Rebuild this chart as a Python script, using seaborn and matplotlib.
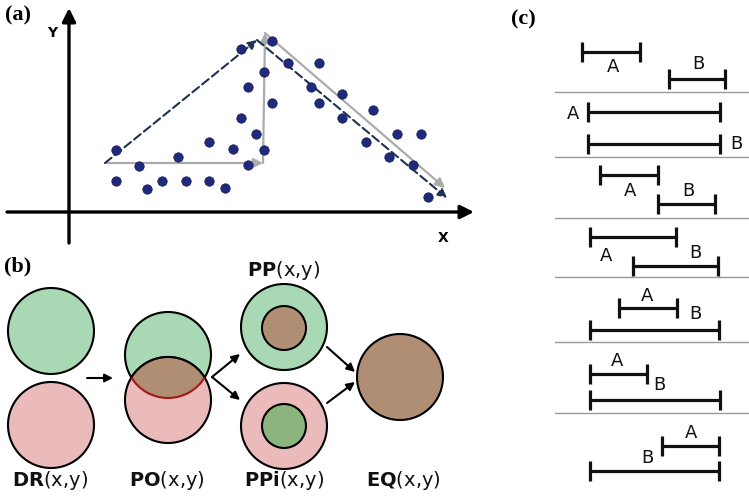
import numpy as np
import matplotlib
matplotlib.use("Agg")
import matplotlib.pyplot as plt
from matplotlib.patches import Circle, Arc
import seaborn as sns

# ---------------- data ----------------
# panel (a) scatter points (pixel space)
pts_x = [116, 116, 139, 147, 162, 178, 186, 209, 209, 225, 233, 241, 241, 248, 248, 256,
         264, 264, 272, 272, 288, 311, 319, 319, 342, 342, 366, 373, 389, 397, 413, 421, 428]
pts_y = [150, 181, 166, 189, 181, 157, 181, 142, 181, 188, 149, 49, 118, 87, 165, 134,
         72, 150, 103, 41, 63, 87, 63, 103, 94, 118, 142, 110, 157, 134, 165, 134, 197]
gray_path_x = [105, 263, 265, 445]
gray_path_y = [163, 163, 33, 188]
dash_path_x = [105, 257, 447]
dash_path_y = [163, 40, 198]

# panel (b) circles: (cx, cy, r)
dr_green = (51, 331, 43)
dr_pink = (51, 425, 43)
po_green = (168, 355, 43)
po_pink = (168, 400, 43)
pp_outer = (284, 327, 43)
pp_inner = (284, 328, 22)
ppi_outer = (284, 426, 43)
ppi_inner = (284, 426, 22)
eq_circle = (400, 377, 43)
b_labels = [r"$\mathbf{DR}$(x,y)", r"$\mathbf{PO}$(x,y)", r"$\mathbf{PP}$(x,y)",
            r"$\mathbf{PPi}$(x,y)", r"$\mathbf{EQ}$(x,y)"]
b_label_xy = [(50, 481), (167, 481), (284, 271), (284, 481), (403, 481)]

# panel (c) intervals: rows of (start, end, y)
int_a = [(582, 640, 52), (588, 720, 112), (600, 658, 175), (590, 676, 237),
         (619, 677, 308), (590, 647, 374), (662, 719, 446)]
int_b = [(669, 725, 79), (588, 720, 144), (658, 715, 204), (633, 718, 266),
         (590, 719, 330), (590, 720, 400), (590, 719, 471)]
lab_a = [(613, 67), (573, 114), (630, 191), (606, 256), (647, 296), (617, 361), (691, 433)]
lab_b = [(698, 64), (736, 144), (688, 191), (695, 253), (695, 314), (659, 385), (647, 458)]
separators_y = [92, 157, 218, 277, 342, 413]

GREEN = "#a9d8b4"
PINK = "#ebbaba"
BROWN = "#b08e73"
DGREEN = "#8cb47d"
NAVY = "#1f2a7c"

plt.rcParams["mathtext.fontset"] = "dejavusans"
fig = plt.figure(figsize=(7.49, 5.01), dpi=100)
ax = fig.add_axes([0, 0, 1, 1])

# ---- panel (a) ----
sns.scatterplot(x=pts_x, y=pts_y, ax=ax, s=46, color=NAVY, edgecolor="#141a50",
                linewidth=0.5, zorder=3)

def arrow(p0, p1, color="black", lw=1.5, ms=12, ls="-", z=4):
    ax.annotate("", xy=p1, xytext=p0,
                arrowprops=dict(arrowstyle="-|>", color=color, lw=lw, linestyle=ls,
                                mutation_scale=ms, shrinkA=0, shrinkB=0), zorder=z)

# axes arrows
arrow((69, 243), (69, 8), lw=2.4, ms=20)
arrow((7, 212), (474, 212), lw=2.4, ms=20)
ax.text(52, 33, "Y", fontsize=10, fontweight="bold", ha="center", va="center")
ax.text(443, 238, "X", fontsize=10, fontweight="bold", ha="center", va="center")

# gray arrows
for i in range(len(gray_path_x) - 1):
    arrow((gray_path_x[i], gray_path_y[i]), (gray_path_x[i + 1], gray_path_y[i + 1]),
          color="#ababab", lw=1.6, ms=14, z=2)
# dashed navy arrows
for i in range(len(dash_path_x) - 1):
    arrow((dash_path_x[i], dash_path_y[i]), (dash_path_x[i + 1], dash_path_y[i + 1]),
          color="#1e3352", lw=1.5, ms=13, ls=(0, (4, 2)), z=2)

# ---- panel (b) ----
def circ(c, fc, z=2, ec="black"):
    p = Circle((c[0], c[1]), c[2], facecolor=fc, edgecolor=ec, lw=1.5, zorder=z)
    ax.add_patch(p)
    return p

circ(dr_green, GREEN)
circ(dr_pink, PINK)
g = circ(po_green, GREEN, z=2)
circ(po_pink, PINK, z=3)
lens = Circle((po_pink[0], po_pink[1]), po_pink[2], facecolor=BROWN, edgecolor="none", zorder=4)
ax.add_patch(lens)
lens.set_clip_path(g)
d = po_pink[1] - po_green[1]
phi = np.degrees(np.arcsin((d / 2) / po_green[2]))
ax.add_patch(Arc((po_green[0], po_green[1]), 2 * po_green[2], 2 * po_green[2],
                 theta1=phi, theta2=180 - phi, color="#a01818", lw=1.5, zorder=5))
ax.add_patch(Arc((po_pink[0], po_pink[1]), 2 * po_pink[2], 2 * po_pink[2],
                 theta1=180 + phi, theta2=360 - phi, color="black", lw=1.5, zorder=5))
circ(pp_outer, GREEN)
circ(pp_inner, BROWN, z=3)
circ(ppi_outer, PINK)
circ(ppi_inner, DGREEN, z=3)
circ(eq_circle, BROWN)

arrow((87, 378), (113, 378), lw=1.5, ms=12)
arrow((212, 377), (240, 354), lw=1.5, ms=12)
arrow((212, 377), (240, 400), lw=1.5, ms=12)
arrow((327, 347), (355, 372), lw=1.5, ms=12)
arrow((327, 403), (355, 382), lw=1.5, ms=12)

for lab, (x, y) in zip(b_labels, b_label_xy):
    ax.text(x, y, lab, fontsize=14, ha="center", va="center", color="#111111")

# ---- panel (c) ----
for y in separators_y:
    ax.plot([555, 749], [y, y], color="#9a9a9a", lw=1.0, zorder=1)

def interval(x0, x1, y):
    ax.plot([x0, x1], [y, y], color="#111111", lw=2.3, solid_capstyle="butt", zorder=3)
    ax.vlines([x0, x1], y - 10, y + 10, color="#111111", lw=2.3, zorder=3)

for (a0, a1, ay), (b0, b1, by) in zip(int_a, int_b):
    interval(a0, a1, ay)
    interval(b0, b1, by)
for x, y in lab_a:
    ax.text(x, y, "A", fontsize=13, ha="center", va="center", color="#111111")
for x, y in lab_b:
    ax.text(x, y, "B", fontsize=13, ha="center", va="center", color="#111111")

# panel letters
for txt, (x, y) in zip(["(a)", "(b)", "(c)"], [(5, 15), (4, 266), (511, 19)]):
    ax.text(x, y, txt, fontsize=16, fontweight="bold", family="Liberation Serif",
            ha="left", va="center")

ax.set_xlim(0, 749)
ax.set_ylim(501, 0)
ax.set_aspect("auto")
ax.axis("off")
fig.savefig("out.png", dpi=100)
